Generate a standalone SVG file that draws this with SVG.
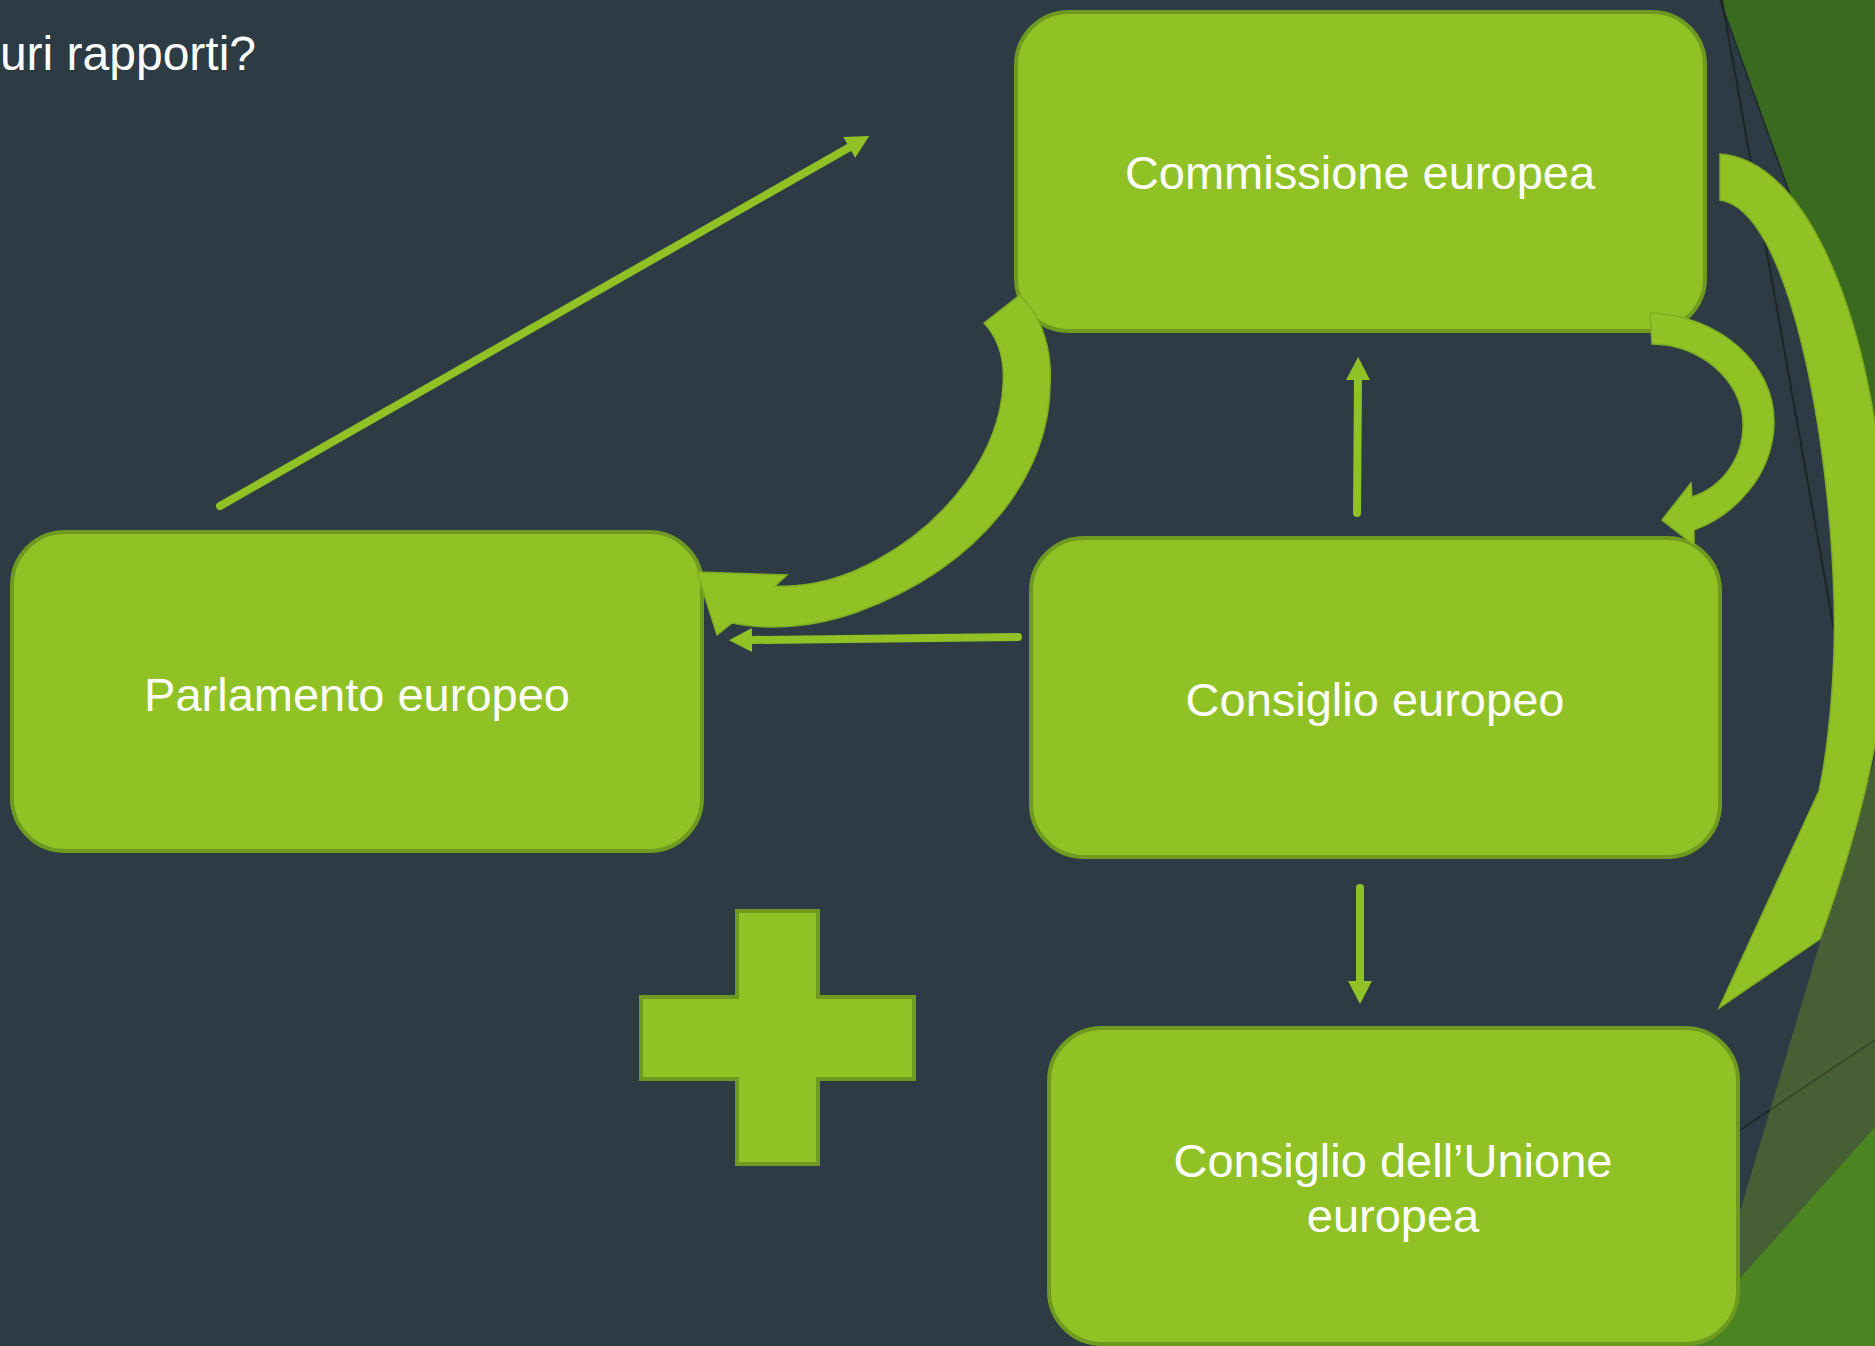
<svg xmlns="http://www.w3.org/2000/svg" width="1875" height="1346" viewBox="0 0 1875 1346">
<style>
.box{fill:#90C226;stroke:#6E9A1F;stroke-width:4}
.lbl{font-family:"Liberation Sans",Arial,sans-serif;font-size:47px;fill:#FFFFFF;text-anchor:middle}
.ttl{font-family:"Liberation Sans",Arial,sans-serif;font-size:48px;fill:#FFFFFF}
.ln{stroke:#90C226;stroke-width:8;stroke-linecap:round;fill:none}
.big{fill:#90C226;stroke:#7FAE20;stroke-width:1.5}
</style>
<defs>
<marker id="ah" markerUnits="userSpaceOnUse" viewBox="0 0 23 24" markerWidth="23" markerHeight="24" refX="1" refY="12" orient="auto">
<path d="M0,0 L23,12 L0,24 Z" fill="#90C226"/>
</marker>
</defs>
<rect x="0" y="0" width="1875" height="1346" fill="#2C3B44"/>
<g id="decoration">
<polygon points="1720,0 1875,0 1875,430" fill="#3A6A1F"/>
<line x1="1720" y1="0" x2="1875" y2="430" stroke="#1F2A2B" stroke-width="1.5"/>
<line x1="1722" y1="0" x2="1875" y2="860" stroke="#1E2627" stroke-width="2"/>
<polygon points="1875,757 1700,1346 1875,1346" fill="#465F35"/>
<line x1="1700" y1="1157" x2="1770" y2="1110" stroke="#1F2A2B" stroke-width="2"/>
<line x1="1770" y1="1110" x2="1875" y2="1040" stroke="#3B4A2A" stroke-width="2"/>
<polygon points="1875,1127 1734,1285 1680,1346 1875,1346" fill="#4A8522"/>
</g>
<text class="ttl" x="256" y="70" text-anchor="end">uri rapporti?</text>
<g id="node-commissione">
<rect class="box" x="1016" y="12" width="689" height="319" rx="53"/>
<text class="lbl" x="1360" y="189">Commissione europea</text>
</g>
<g id="node-parlamento">
<rect class="box" x="12" y="532" width="690" height="319" rx="53"/>
<text class="lbl" x="357" y="711">Parlamento europeo</text>
</g>
<g id="node-consiglio-europeo">
<rect class="box" x="1031" y="538" width="689" height="319" rx="53"/>
<text class="lbl" x="1375" y="716">Consiglio europeo</text>
</g>
<g id="node-consiglio-ue">
<rect class="box" x="1049" y="1028" width="689" height="316" rx="53"/>
<text class="lbl" x="1393" y="1177">Consiglio dell’Unione</text>
<text class="lbl" x="1393" y="1232">europea</text>
</g>
<g id="plus">
<path d="M737,911 H818 V997 H914 V1079 H818 V1164 H737 V1079 H641 V997 H737 Z" fill="#90C226" stroke="#6E9A1F" stroke-width="4"/>
</g>
<g id="connectors">
<line class="ln" x1="220" y1="506" x2="850" y2="147" stroke-width="7" marker-end="url(#ah)"/>
<line class="ln" x1="1357" y1="513" x2="1358" y2="379" marker-end="url(#ah)"/>
<line class="ln" x1="1360" y1="888" x2="1360" y2="982" marker-end="url(#ah)"/>
<line class="ln" x1="1018" y1="637" x2="751" y2="640" marker-end="url(#ah)"/>
<path class="big" d="M1020,295 C1045,320 1052,355 1050,385 C1050,470 985,565 857,612 C815,627 770,631 732,623 L717,635 L697,572 L787,575 L775,586 C815,588 850,575 877,560 C950,520 1000,450 1003,385 C1005,360 998,338 984,323 Z"/>
<path class="big" d="M1650,313 C1720,315 1775,365 1774,423 C1773,475 1735,515 1694,530 L1694,545 L1662,520 L1691,483 L1692,497 C1722,487 1744,458 1743,423 C1742,380 1700,344 1652,344 Z"/>
<path class="big" d="M1720,154 C1810,160 1880,330 1888,560 C1893,690 1870,800 1820,939 L1719,1008 L1819,791 C1830,740 1836,660 1834,600 C1830,440 1790,210 1720,200 Z"/>
</g>
</svg>
